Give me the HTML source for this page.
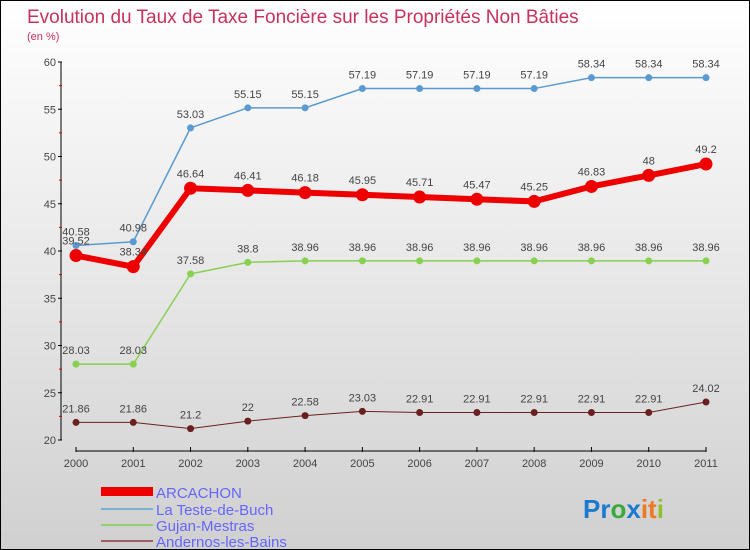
<!DOCTYPE html>
<html><head><meta charset="utf-8"><style>
body{margin:0}
#c{position:relative;width:748px;height:548px;border:1px solid #000;background:linear-gradient(#ffffff,#d0d0d0);font-family:"Liberation Sans",sans-serif;overflow:hidden}
</style></head><body>
<div id="c">
<svg id="s" width="748" height="548" xmlns="http://www.w3.org/2000/svg">
<text x="26" y="22" font-size="19" fill="#c8325a">Evolution du Taux de Taxe Foncière sur les Propriétés Non Bâties</text>
<text x="26" y="39" font-size="11" fill="#c8325a">(en %)</text>
<g id="axes"></g><g id="series"></g>
<g>
<rect x="100" y="486" width="52" height="9" fill="#e00"/>
<text x="155" y="497" font-size="15" fill="#6666ff">ARCACHON</text>
<line x1="100" y1="508" x2="152" y2="508" stroke="#7ab0d8" stroke-width="2"/>
<text x="155" y="514" font-size="15" fill="#6666ff">La Teste-de-Buch</text>
<line x1="100" y1="524" x2="152" y2="524" stroke="#90d070" stroke-width="2"/>
<text x="155" y="530" font-size="15" fill="#6666ff">Gujan-Mestras</text>
<line x1="100" y1="540" x2="152" y2="540" stroke="#a06060" stroke-width="2"/>
<text x="155" y="546" font-size="15" fill="#6666ff">Andernos-les-Bains</text>
</g>
<text x="582" y="517" font-size="26" font-weight="bold"><tspan fill="#1a7ad0">Pr</tspan><tspan fill="#3aa83a">o</tspan><tspan fill="#1a7ad0">x</tspan><tspan fill="#f07820">it</tspan><tspan fill="#90c030">i</tspan></text>
</svg></div>
<script>
const years=[2000,2001,2002,2003,2004,2005,2006,2007,2008,2009,2010,2011];
const yTicks=[20,25,30,35,40,45,50,55,60];
const arcachon=[39.52,38.34,46.64,46.41,46.18,45.95,45.71,45.47,45.25,46.83,48,49.2];
const teste=[40.58,40.98,53.03,55.15,55.15,57.19,57.19,57.19,57.19,58.34,58.34,58.34];
const gujan=[28.03,28.03,37.58,38.8,38.96,38.96,38.96,38.96,38.96,38.96,38.96,38.96];
const andernos=[21.86,21.86,21.2,22,22.58,23.03,22.91,22.91,22.91,22.91,22.91,24.02];
const arcLabels=["39.52","38.34","46.64","46.41","46.18","45.95","45.71","45.47","45.25","46.83","48","49.2"];
const testeLabels=["40.58","40.98","53.03","55.15","55.15","57.19","57.19","57.19","57.19","58.34","58.34","58.34"];
const gujanLabels=["28.03","28.03","37.58","38.8","38.96","38.96","38.96","38.96","38.96","38.96","38.96","38.96"];
const andLabels=["21.86","21.86","21.2","22","22.58","23.03","22.91","22.91","22.91","22.91","22.91","24.02"];
const NS="http://www.w3.org/2000/svg";
const xS=i=>75+i*(630/11);
const yS=v=>439-(v-20)*(378/40);
function mk(t,a,p){const e=document.createElementNS(NS,t);for(const k in a)e.setAttribute(k,a[k]);p.appendChild(e);return e;}
const ax=document.getElementById('axes');
let l=mk('line',{x1:60,y1:yS(60),x2:60,y2:yS(20),stroke:'#000'},ax);


l=mk('line',{x1:75,y1:450,x2:705,y2:450,stroke:'#000'},ax);


yTicks.forEach(v=>{
 mk('line',{x1:57,y1:yS(v),x2:61,y2:yS(v),stroke:'#000'},ax);
 if(v<60) mk('line',{x1:58,y1:yS(v+2.5),x2:61,y2:yS(v+2.5),stroke:'#d00'},ax);
 const t=mk('text',{x:55,y:yS(v)+4,'font-size':11,fill:'#444','text-anchor':'end'},ax);t.textContent=v;
 
 
});
years.forEach((y,i)=>{
 mk('line',{x1:xS(i),y1:446,x2:xS(i),y2:451,stroke:'#000'},ax);
 const t=mk('text',{x:xS(i),y:466,'font-size':11,fill:'#444','text-anchor':'middle'},ax);t.textContent=y;
 
 
});
const sg=document.getElementById('series');
function series(vals,labs,color,w,r,name,dy){
 const g=mk('g',{},sg);
 
 
 const p=mk('polyline',{points:vals.map((v,i)=>xS(i)+','+yS(v)).join(' '),fill:'none',stroke:color,'stroke-width':w},g);
 
 
 vals.forEach((v,i)=>{
  const c=mk('circle',{cx:xS(i),cy:yS(v),r:r,fill:color},g);
  
  
  const t=mk('text',{x:xS(i),y:yS(v)+dy,'font-size':11,fill:'#444','text-anchor':'middle'},g);t.textContent=labs[i];
  
  
 });
}
series(andernos,andLabels,'#6a2020',1,3.5,'andernos',-10);
series(gujan,gujanLabels,'#88d050',1.5,3.5,'gujan',-10);
series(teste,testeLabels,'#5a9ad0',1.5,3.5,'la-teste',-10);
series(arcachon,arcLabels,'#ee0000',6,6.5,'arcachon',-11);
</script>
</body></html>
